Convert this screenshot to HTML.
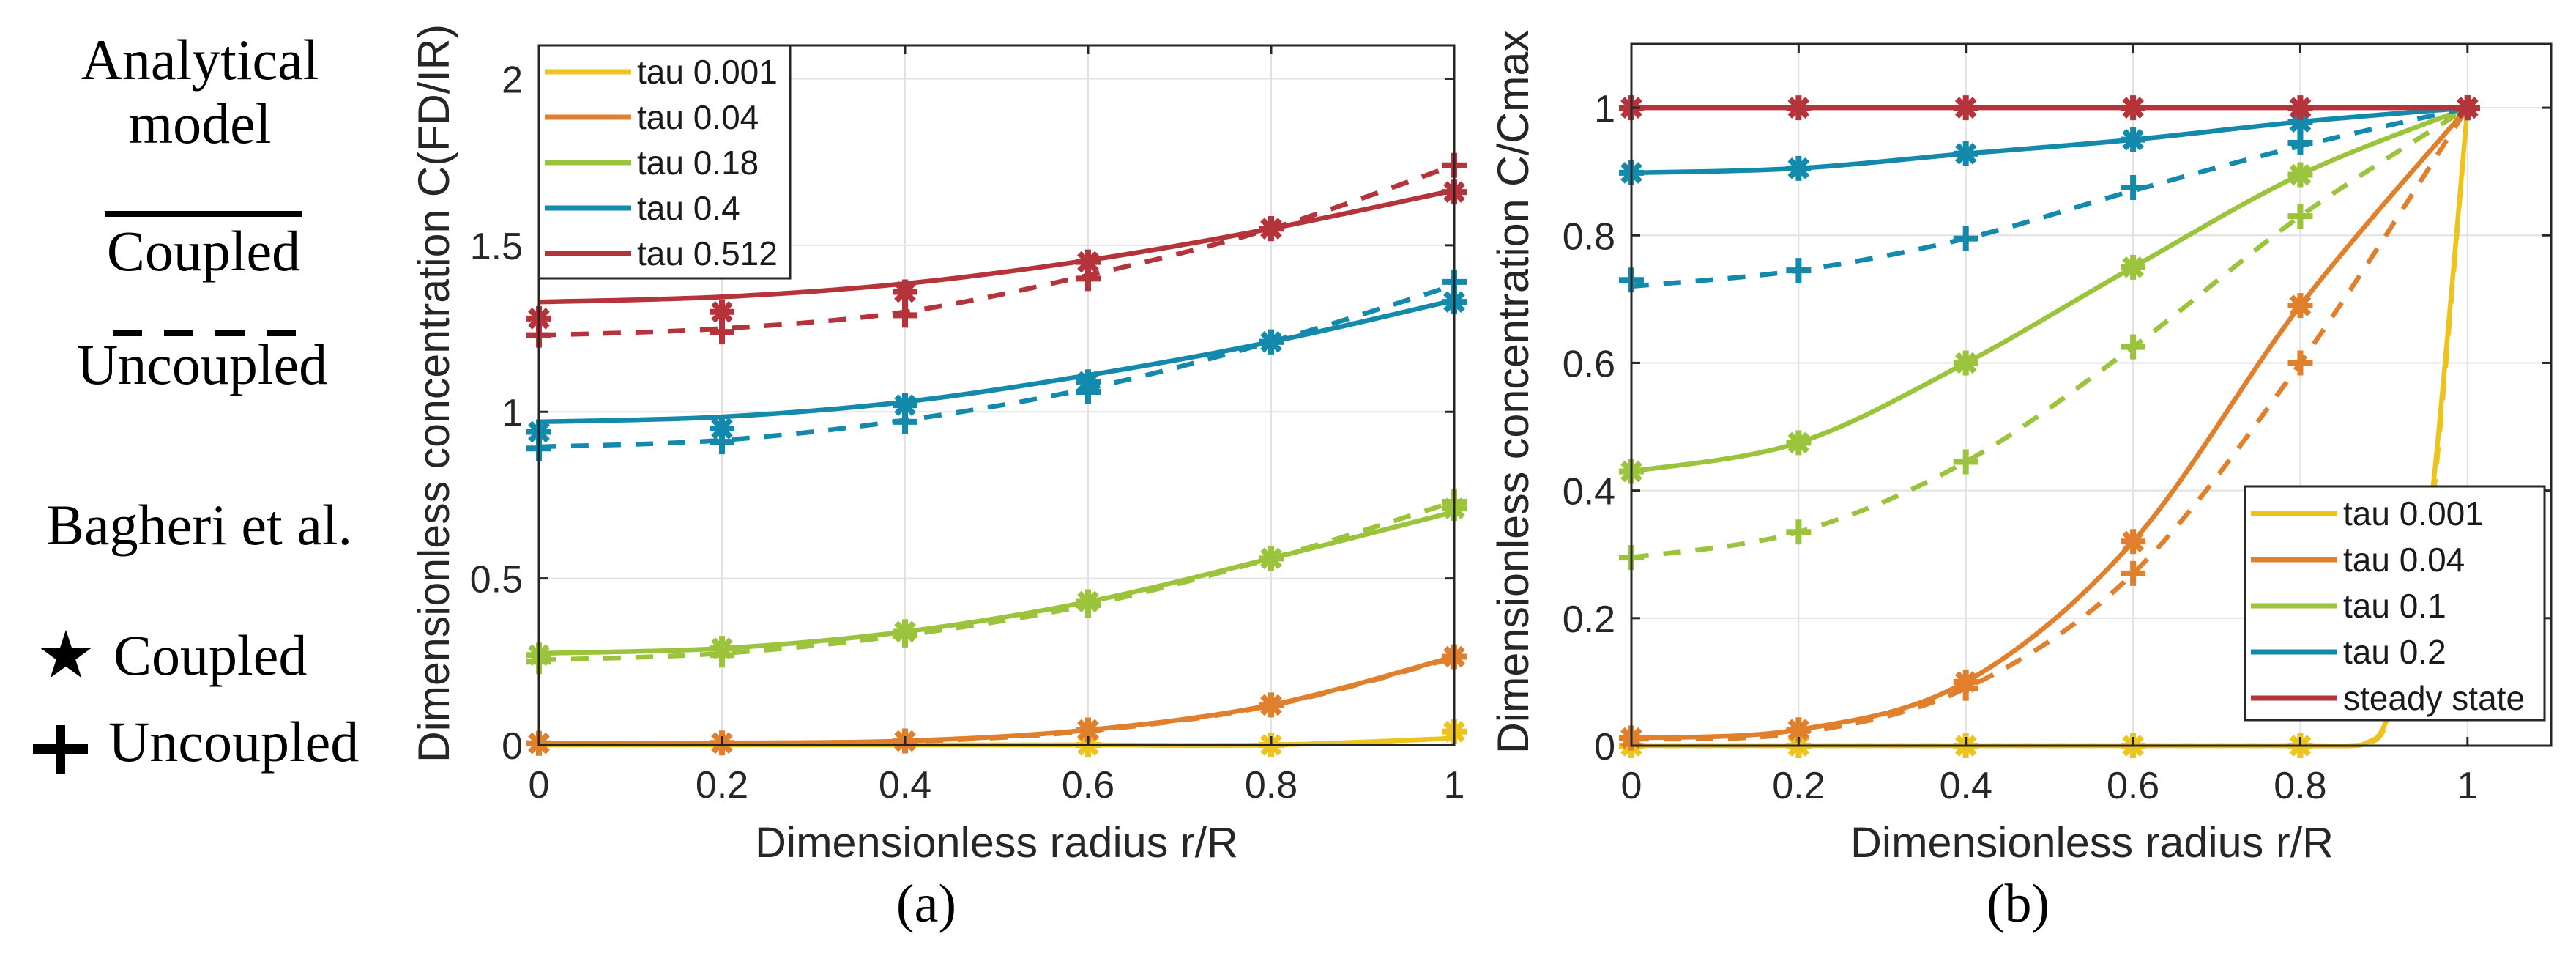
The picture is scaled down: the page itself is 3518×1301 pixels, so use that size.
<!DOCTYPE html>
<html><head><meta charset="utf-8">
<style>
html,body{margin:0;padding:0;background:#fff;}
svg{display:block;}
</style></head>
<body>
<svg id="fig" width="3518" height="1301" viewBox="0 0 3518 1301" xmlns="http://www.w3.org/2000/svg">
  <g font-family="'Liberation Serif', serif" font-size="78" fill="#000" text-anchor="middle">
    <text x="273" y="108">Analytical</text>
    <text x="273" y="195">model</text>
    <line x1="144" y1="292" x2="413" y2="292" stroke="#000" stroke-width="8"/>
    <text x="278" y="369">Coupled</text>
    <line x1="154" y1="455" x2="404" y2="455" stroke="#000" stroke-width="8" stroke-dasharray="40 30"/>
    <text x="276" y="524">Uncoupled</text>
    <text x="272" y="743">Bagheri et al.</text>
    <text x="90" y="925" font-size="90">★</text>
    <text x="155" y="921" text-anchor="start">Coupled</text>
    <g><rect x="45" y="1016" width="75" height="13" fill="#000"/><rect x="76" y="990" width="13" height="66" fill="#000"/></g>
    <text x="148" y="1039" text-anchor="start">Uncoupled</text>
  </g>
  <g id="plotA"></g>
  <g id="plotB"></g>
  <text x="1265" y="1258" font-family="'Liberation Serif', serif" font-size="74" text-anchor="middle">(a)</text>
  <text x="2756" y="1258" font-family="'Liberation Serif', serif" font-size="74" text-anchor="middle">(b)</text>
</svg>
<script>
// ---- Chart A data ----
const aX = [0, 0.2, 0.4, 0.6, 0.8, 1];
const aLabels = ["tau 0.001", "tau 0.04", "tau 0.18", "tau 0.4", "tau 0.512"];
const aSolid = [
  [0, 0, 0, 0, 0, 0.02],
  [0.005, 0.006, 0.012, 0.045, 0.12, 0.265],
  [0.275, 0.29, 0.34, 0.43, 0.56, 0.70],
  [0.97, 0.985, 1.03, 1.11, 1.21, 1.335],
  [1.33, 1.345, 1.385, 1.455, 1.55, 1.665]
];
const aStar = [
  [null, null, null, 0, 0, 0.04],
  [0.005, 0.006, 0.012, 0.045, 0.12, 0.265],
  [0.27, 0.29, 0.34, 0.43, 0.56, 0.71],
  [0.94, 0.95, 1.02, 1.09, 1.21, 1.33],
  [1.28, 1.30, 1.36, 1.45, 1.55, 1.66]
];
const aDash = [
  [0, 0, 0, 0, 0, 0.02],
  [0.004, 0.005, 0.01, 0.042, 0.118, 0.262],
  [0.255, 0.275, 0.33, 0.42, 0.56, 0.73],
  [0.895, 0.915, 0.975, 1.07, 1.21, 1.38],
  [1.23, 1.25, 1.30, 1.41, 1.55, 1.74]
];
const aPlus = [
  [null, null, null, null, null, null],
  [null, null, null, null, null, null],
  [0.25, 0.27, 0.33, 0.42, 0.56, 0.73],
  [0.89, 0.91, 0.97, 1.06, 1.21, 1.39],
  [1.23, 1.24, 1.29, 1.40, 1.55, 1.74]
];
const aXTicks = [0, 0.2, 0.4, 0.6, 0.8, 1];
const aXTickLabels = ["0", "0.2", "0.4", "0.6", "0.8", "1"];
const aYTicks = [0, 0.5, 1, 1.5, 2];
const aYTickLabels = ["0", "0.5", "1", "1.5", "2"];

// ---- Chart B data ----
const bX = [0, 0.2, 0.4, 0.6, 0.8, 1];
const bLabels = ["tau 0.001", "tau 0.04", "tau 0.1", "tau 0.2", "steady state"];
const bSolid = [
  null,
  [0.012, 0.025, 0.10, 0.32, 0.69, 1],
  [0.43, 0.475, 0.60, 0.75, 0.895, 1],
  [0.898, 0.905, 0.928, 0.95, 0.978, 1],
  [1, 1, 1, 1, 1, 1]
];
const bYellowX = [0, 0.2, 0.4, 0.6, 0.8, 0.86, 0.88, 0.9, 0.93, 0.96, 1];
const bYellowSolid = [0, 0, 0, 0, 0, 0, 0.005, 0.03, 0.15, 0.42, 1];
const bYellowDash = [0, 0, 0, 0, 0, 0, 0.004, 0.025, 0.13, 0.40, 1];
const bStar = [
  [0, 0, 0, 0, 0, 1],
  [0.012, 0.025, 0.10, 0.32, 0.69, 1],
  [0.43, 0.475, 0.60, 0.75, 0.895, 1],
  [0.898, 0.905, 0.928, 0.95, 0.978, 1],
  [1, 1, 1, 1, 1, 1]
];
const bDash = [
  null,
  [0.01, 0.02, 0.09, 0.27, 0.60, 1],
  [0.295, 0.335, 0.445, 0.625, 0.83, 1],
  [0.72, 0.745, 0.795, 0.87, 0.94, 1],
  null
];
const bPlus = [
  [null, null, null, null, null, null],
  [null, null, 0.09, 0.27, 0.60, null],
  [0.295, 0.335, 0.445, 0.625, 0.83, null],
  [0.73, 0.745, 0.795, 0.875, 0.945, null],
  [null, null, null, null, null, null]
];
const bXTicks = [0, 0.2, 0.4, 0.6, 0.8, 1];
const bXTickLabels = ["0", "0.2", "0.4", "0.6", "0.8", "1"];
const bYTicks = [0, 0.2, 0.4, 0.6, 0.8, 1];
const bYTickLabels = ["0", "0.2", "0.4", "0.6", "0.8", "1"];

const COLORS = ["#EDC41E", "#E07F2C", "#9BC33C", "#1389AC", "#B5333A"];
const NS = "http://www.w3.org/2000/svg";

function mk(tag, attrs, parent) {
  const e = document.createElementNS(NS, tag);
  for (const k in attrs) e.setAttribute(k, attrs[k]);
  parent.appendChild(e);
  return e;
}
function smoothPath(pts) {
  let d = "M" + pts[0][0].toFixed(1) + "," + pts[0][1].toFixed(1);
  for (let i = 0; i < pts.length - 1; i++) {
    const p0 = pts[Math.max(0, i - 1)], p1 = pts[i], p2 = pts[i + 1], p3 = pts[Math.min(pts.length - 1, i + 2)];
    const c1x = p1[0] + (p2[0] - p0[0]) / 6, c1y = p1[1] + (p2[1] - p0[1]) / 6;
    const c2x = p2[0] - (p3[0] - p1[0]) / 6, c2y = p2[1] - (p3[1] - p1[1]) / 6;
    d += " C" + c1x.toFixed(1) + "," + c1y.toFixed(1) + " " + c2x.toFixed(1) + "," + c2y.toFixed(1) + " " + p2[0].toFixed(1) + "," + p2[1].toFixed(1);
  }
  return d;
}
function starMarker(g, cx, cy, color) {
  const r = 17;
  const m = mk("g", {}, g);
  
  
  for (let k = 0; k < 4; k++) {
    const a = k * Math.PI / 4;
    mk("line", {x1: cx - r * Math.cos(a), y1: cy - r * Math.sin(a), x2: cx + r * Math.cos(a), y2: cy + r * Math.sin(a), stroke: color, "stroke-width": 8}, m);
  }
}
function plusMarker(g, cx, cy, color) {
  const r = 17;
  const m = mk("g", {}, g);
  
  
  mk("line", {x1: cx - r, y1: cy, x2: cx + r, y2: cy, stroke: color, "stroke-width": 8}, m);
  mk("line", {x1: cx, y1: cy - r, x2: cx, y2: cy + r, stroke: color, "stroke-width": 8}, m);
}

function drawAxes(g, o) {
  const sx = v => o.left + (v - o.xmin) / (o.xmax - o.xmin) * (o.right - o.left);
  const sy = v => o.bottom - (v - o.ymin) / (o.ymax - o.ymin) * (o.bottom - o.top);
  mk("rect", {x: o.left, y: o.top, width: o.right - o.left, height: o.bottom - o.top, fill: "#fff"}, g);
  const grid = mk("g", {}, g);
  
  
  o.xticks.forEach(v => mk("line", {x1: sx(v), y1: o.top, x2: sx(v), y2: o.bottom, stroke: "#e2e2e2", "stroke-width": 2}, grid));
  o.yticks.forEach(v => mk("line", {x1: o.left, y1: sy(v), x2: o.right, y2: sy(v), stroke: "#e2e2e2", "stroke-width": 2}, grid));
  return {sx, sy};
}
function drawFrame(g, o, s) {
  const fr = mk("rect", {x: o.left, y: o.top, width: o.right - o.left, height: o.bottom - o.top, fill: "none", stroke: "#262626", "stroke-width": 3}, g);
  
  
  o.xticks.forEach(v => {
    mk("line", {x1: s.sx(v), y1: o.bottom, x2: s.sx(v), y2: o.bottom - 12, stroke: "#262626", "stroke-width": 3}, g);
    mk("line", {x1: s.sx(v), y1: o.top, x2: s.sx(v), y2: o.top + 12, stroke: "#262626", "stroke-width": 3}, g);
  });
  o.yticks.forEach(v => {
    mk("line", {x1: o.left, y1: s.sy(v), x2: o.left + 12, y2: s.sy(v), stroke: "#262626", "stroke-width": 3}, g);
    mk("line", {x1: o.right, y1: s.sy(v), x2: o.right - 12, y2: s.sy(v), stroke: "#262626", "stroke-width": 3}, g);
  });
  const tl = mk("g", {"font-family": "'Liberation Sans', sans-serif", "font-size": 52, fill: "#262626"}, g);
  
  
  o.xticks.forEach((v, i) => {
    const t = mk("text", {x: s.sx(v), y: o.bottom + 72, "text-anchor": "middle"}, tl);
    t.textContent = o.xlabels[i];
    
    
  });
  o.yticks.forEach((v, i) => {
    const t = mk("text", {x: o.left - 22, y: s.sy(v) + 19, "text-anchor": "end"}, tl);
    t.textContent = o.ylabels[i];
    
    
  });
  const xt = mk("text", {x: o.xtitleX, y: 1170, "text-anchor": "middle", "font-family": "'Liberation Sans', sans-serif", "font-size": 58, fill: "#262626", textLength: 660, lengthAdjust: "spacingAndGlyphs"}, g);
  xt.textContent = "Dimensionless radius r/R";
  
  
  const yt = mk("text", {x: 0, y: 0, "text-anchor": "middle", "font-family": "'Liberation Sans', sans-serif", "font-size": 60, fill: "#262626", textLength: o.ytitleLen, lengthAdjust: "spacingAndGlyphs", transform: "translate(" + (o.ytitleX + 21) + "," + o.ytitleY + ") rotate(-90)"}, g);
  yt.textContent = o.ytitle;
  
  
}
function drawLegend(g, box, labels, rows) {
  const lg = mk("g", {}, g);
  
  
  mk("rect", {x: box.x, y: box.y, width: box.w, height: box.h, fill: "#fff", stroke: "#262626", "stroke-width": 3}, lg);
  labels.forEach((lab, i) => {
    const e = mk("g", {}, lg);
    
    
    mk("line", {x1: box.x + 8, y1: rows[i], x2: box.x + 126, y2: rows[i], stroke: COLORS[i], "stroke-width": 7}, e);
    const t = mk("text", {x: box.x + 134, y: rows[i] + 16, "font-family": "'Liberation Sans', sans-serif", "font-size": 46, fill: "#1a1a1a"}, e);
    t.textContent = lab;
  });
}
function drawSeries(g, s, xs, ys, color, dashed, name) {
  const pts = [];
  xs.forEach((x, i) => { if (ys[i] !== null) pts.push([s.sx(x), s.sy(ys[i])]); });
  const p = mk("path", {d: smoothPath(pts), fill: "none", stroke: color, "stroke-width": 6.5, "stroke-linejoin": "round"}, g);
  if (dashed) p.setAttribute("stroke-dasharray", "24 20");
  
  
}
function drawMarkers(g, s, xs, ys, color, kind) {
  xs.forEach((x, i) => {
    if (ys[i] === null || ys[i] === undefined) return;
    if (kind === "star") starMarker(g, s.sx(x), s.sy(ys[i]), color);
    else plusMarker(g, s.sx(x), s.sy(ys[i]), color);
  });
}

// ---- Chart A ----
(function () {
  const g = document.getElementById("plotA");
  const o = {left: 736, right: 1986, top: 62, bottom: 1017, xmin: 0, xmax: 1, ymin: 0, ymax: 2.1,
    xticks: aXTicks, xlabels: aXTickLabels, yticks: aYTicks, ylabels: aYTickLabels,
    xtitleX: 1361, ytitleX: 592, ytitleY: 537, ytitleLen: 1008, ytitle: "Dimensionless concentration C(FD/IR)"};
  const s = drawAxes(g, o);
  const sg = mk("g", {}, g);
  
  
  for (let i = 0; i < aSolid.length; i++) {
    drawSeries(sg, s, aX, aDash[i], COLORS[i], true, "uncoupled-line-" + i);
    drawSeries(sg, s, aX, aSolid[i], COLORS[i], false, "coupled-line-" + i);
    drawMarkers(sg, s, aX, aPlus[i], COLORS[i], "plus");
    drawMarkers(sg, s, aX, aStar[i], COLORS[i], "star");
  }
  drawFrame(g, o, s);
  drawLegend(g, {x: 736, y: 62, w: 343, h: 318}, aLabels, [98, 160, 222, 284, 346]);
})();

// ---- Chart B ----
(function () {
  const g = document.getElementById("plotB");
  const o = {left: 2228, right: 3484, top: 60, bottom: 1018, xmin: 0, xmax: 1.1, ymin: 0, ymax: 1.1,
    xticks: bXTicks, xlabels: bXTickLabels, yticks: bYTicks, ylabels: bYTickLabels,
    xtitleX: 2857, ytitleX: 2066, ytitleY: 535, ytitleLen: 988, ytitle: "Dimensionless concentration C/Cmax"};
  const s = drawAxes(g, o);
  const sg = mk("g", {}, g);
  
  
  for (let i = 0; i < bStar.length; i++) {
    if (i === 0) {
      drawSeries(sg, s, bYellowX, bYellowDash, COLORS[0], true, "uncoupled-line-0");
      drawSeries(sg, s, bYellowX, bYellowSolid, COLORS[0], false, "coupled-line-0");
    } else {
      if (bDash[i]) drawSeries(sg, s, bX, bDash[i], COLORS[i], true, "uncoupled-line-" + i);
      drawSeries(sg, s, bX, bSolid[i], COLORS[i], false, "coupled-line-" + i);
    }
    drawMarkers(sg, s, bX, bPlus[i], COLORS[i], "plus");
    drawMarkers(sg, s, bX, bStar[i], COLORS[i], "star");
  }
  drawFrame(g, o, s);
  drawLegend(g, {x: 3066, y: 664, w: 409, h: 319}, bLabels, [701, 764, 827, 890, 953]);
})();
</script>
</body></html>
